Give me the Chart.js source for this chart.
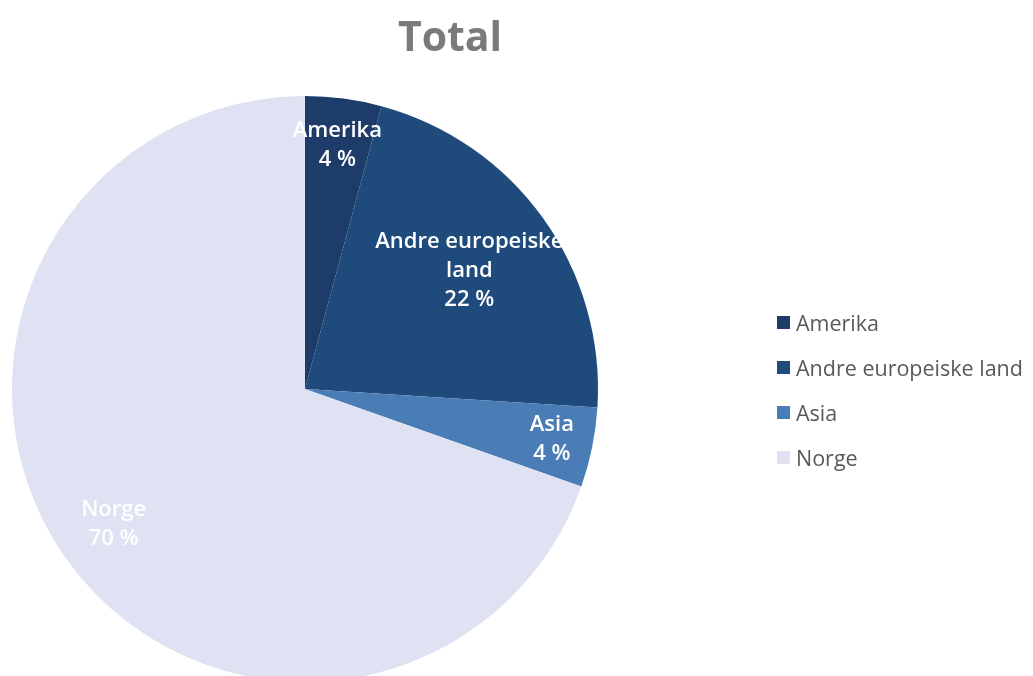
<!DOCTYPE html>
<html>
<head>
<meta charset="utf-8">
<script src="https://cdn.jsdelivr.net/npm/chart.js@4.4.1/dist/chart.umd.min.js"></script>
<style>
  html, body { margin: 0; padding: 0; background: #fff; overflow: hidden; }
  #wrap { position: relative; width: 1033px; height: 676px; overflow: hidden; font-family: "Open Sans", sans-serif; }
  #pie { position: absolute; left: 0; top: 0; }
  #title { position: absolute; left: 300px; width: 300px; top: 7px; text-align: center;
           font-size: 41px; font-weight: 700; color: #7a7a7a; }
  #legend { position: absolute; left: 777px; top: 300px; }
  .lg { display: flex; align-items: center; height: 45px; font-size: 21.5px; color: #595959; white-space: nowrap; }
  .lg i { display: inline-block; width: 13px; height: 13px; margin-right: 6px; }
</style>
</head>
<body>
<div id="wrap">
  <canvas id="pie" width="1033" height="700"></canvas>
  <div id="title">Total</div>
  <div id="legend"></div>
</div>
<script>
const categories = ['Amerika', 'Andre europeiske land', 'Asia', 'Norge'];
const shares     = [4.2, 21.8, 4.4, 69.6];
const sliceLabels = [['Amerika'], ['Andre europeiske', 'land'], ['Asia'], ['Norge']];
const colors     = ['#1d3c69', '#1f4a7c', '#4a7cb5', '#dee2f2'];

// radius fraction where each slice label sits
const labelR = [0.84, 0.69, 0.86, 0.8];

const sliceText = {
  id: 'sliceText',
  afterDatasetsDraw(chart) {
    const ctx = chart.ctx;
    const meta = chart.getDatasetMeta(0);
    ctx.save();
    ctx.fillStyle = '#ffffff';
    ctx.font = '600 22px "Open Sans", sans-serif';
    ctx.textAlign = 'center';
    ctx.textBaseline = 'middle';
    meta.data.forEach((arc, i) => {
      const p = arc.getProps(['x', 'y', 'startAngle', 'endAngle', 'outerRadius'], true);
      const mid = (p.startAngle + p.endAngle) / 2;
      const r = p.outerRadius * labelR[i];
      const cx = p.x + Math.cos(mid) * r;
      const cy = p.y + Math.sin(mid) * r;
      const lines = sliceLabels[i].concat([Math.round(shares[i]) + ' %']);
      const lh = 29;
      const y0 = cy - (lines.length - 1) * lh / 2;
      lines.forEach((t, k) => ctx.fillText(t, cx, y0 + k * lh));
    });
    ctx.restore();
  }
};

new Chart(document.getElementById('pie'), {
  type: 'pie',
  data: {
    labels: categories,
    datasets: [{ data: shares, backgroundColor: colors, borderWidth: 0 }],
  },
  options: {
    responsive: false,
    animation: false,
    devicePixelRatio: 1,
    layout: { padding: { left: 12, right: 435, top: 96, bottom: 18 } },
    plugins: { legend: { display: false }, tooltip: { enabled: false }, title: { display: false } },
  },
  plugins: [sliceText],
});

document.getElementById('legend').innerHTML = categories.map((c, i) =>
  `<div class="lg"><i style="background:${colors[i]}"></i>${c}</div>`).join('');
</script>
</body>
</html>
